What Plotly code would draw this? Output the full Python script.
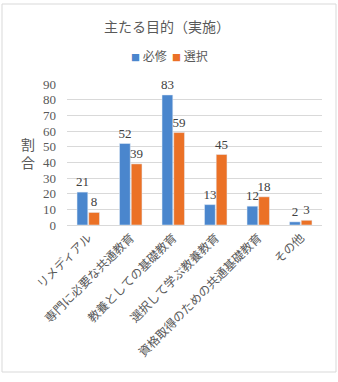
import plotly.graph_objects as go

categories = ["リメディアル", "専門に必要な共通教育", "教養としての基礎教育",
              "選択して学ぶ教養教育", "資格取得のための共通基礎教育", "その他"]
hisshu = [21, 52, 83, 13, 12, 2]
sentaku = [8, 39, 59, 45, 18, 3]
y_ticks = [0, 10, 20, 30, 40, 50, 60, 70, 80, 90]

W, H = 338, 382
L, R, T, B = 67, 16, 84, 157
pw, ph = W - L - R, H - T - B

BLUE = "#4A86CD"
ORANGE = "#EB7126"
font_fam = "Liberation Serif, Noto Sans CJK JP, sans-serif"
cjk = "Noto Sans CJK JP, sans-serif"

fig = go.Figure()
fig.add_trace(go.Bar(name="必修", x=categories, y=hisshu, marker_color=BLUE,
                     text=hisshu, textposition="outside", cliponaxis=False,
                     constraintext="none",
                     textfont=dict(size=13, color="#404040", family=font_fam)))
fig.add_trace(go.Bar(name="選択", x=categories, y=sentaku, marker_color=ORANGE,
                     text=sentaku, textposition="outside", cliponaxis=False,
                     constraintext="none",
                     textfont=dict(size=13, color="#404040", family=font_fam)))

def px_x(p):
    return (p - L) / pw

def px_y(p):
    return (H - B - p) / ph

legend_text = (f'<span style="color:{BLUE};font-size:9px">■</span> 必修  '
               f'<span style="color:{ORANGE};font-size:9px">■</span> 選択')

fig.update_layout(
    width=W, height=H,
    margin=dict(l=L, r=R, t=T, b=B),
    paper_bgcolor="white", plot_bgcolor="white",
    barmode="group", bargap=0.45, bargroupgap=0.08,
    showlegend=False,
    uniformtext=dict(mode=False),
    title=dict(text="主たる目的（実施）", xref="container", x=167 / W, xanchor="center",
               yref="container", y=1 - 27 / H, yanchor="middle",
               font=dict(size=14, color="#595959", family=cjk)),
    xaxis=dict(tickangle=-45, tickfont=dict(size=12, color="#595959", family=cjk),
               showline=True, linecolor="#D9D9D9", ticks="", showgrid=False),
    yaxis=dict(range=[0, 90], tickvals=y_ticks, showgrid=True, gridcolor="#D9D9D9",
               zeroline=False, showline=False, ticks="", ticklabelstandoff=10,
               tickfont=dict(size=13, color="#595959", family=font_fam)),
    shapes=[dict(type="rect", xref="paper", yref="paper",
                 x0=px_x(2), x1=px_x(336), y0=px_y(372), y1=px_y(4),
                 line=dict(color="#D9D9D9", width=1), fillcolor="rgba(0,0,0,0)", layer="below")],
    annotations=[
        dict(text="割<br>合", xref="paper", yref="paper", x=px_x(28), y=px_y(153),
             xanchor="center", yanchor="middle", showarrow=False,
             font=dict(size=14, color="#595959", family=cjk)),
        dict(text=legend_text, xref="paper", yref="paper", x=px_x(169), y=px_y(56),
             xanchor="center", yanchor="middle", showarrow=False,
             font=dict(size=12, color="#595959", family=cjk)),
    ],
)

fig.write_html("out.html")
